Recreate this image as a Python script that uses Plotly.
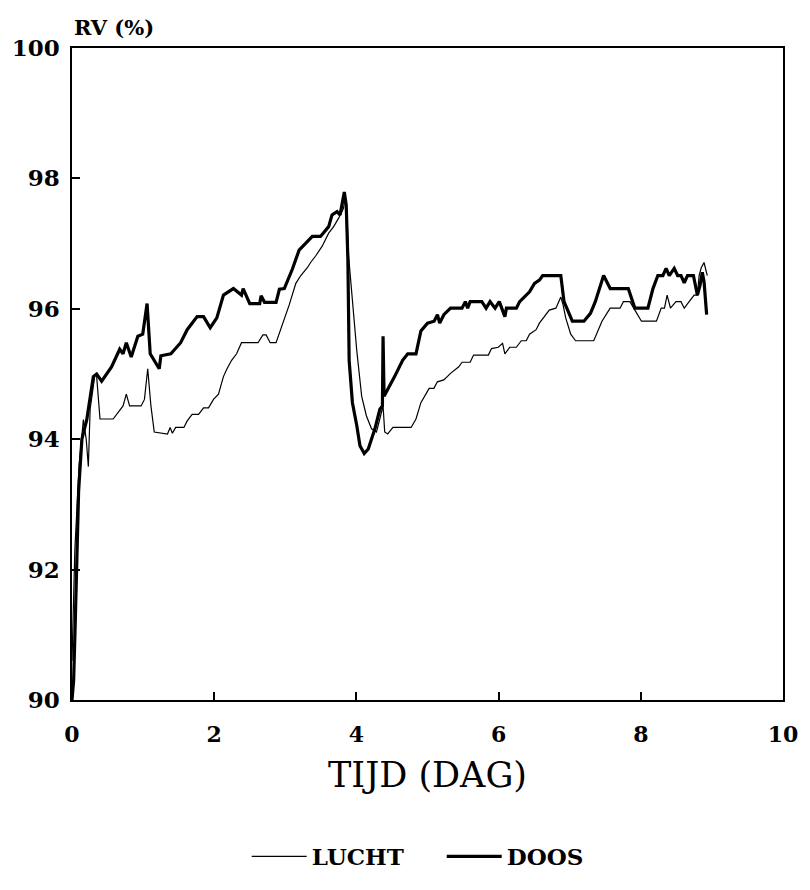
import plotly.graph_objects as go

# LUCHT (air) relative humidity, thin line
lucht_x = [0.0, 0.04, 0.1, 0.16, 0.2, 0.23, 0.255, 0.324, 0.347, 0.394, 0.579, 0.648, 0.718, 0.764,
           0.81, 0.972, 1.019, 1.065, 1.11, 1.157, 1.343, 1.38, 1.412, 1.458, 1.574, 1.62, 1.69, 1.78,
           1.85, 1.92, 1.99, 2.06, 2.13, 2.18, 2.245, 2.315, 2.384, 2.616, 2.685, 2.73, 2.787, 2.87,
           3.055, 3.148, 3.218, 3.31, 3.356, 3.426, 3.519, 3.61, 3.68, 3.75, 3.819, 3.843, 3.866, 3.89,
           3.935, 4.005, 4.074, 4.14, 4.213, 4.282, 4.329, 4.375, 4.398, 4.44, 4.514, 4.769, 4.838,
           4.907, 5.023, 5.09, 5.139, 5.23, 5.324, 5.44, 5.486, 5.6, 5.648, 5.856, 5.9, 5.995, 6.056,
           6.088, 6.157, 6.25, 6.319, 6.389, 6.435, 6.528, 6.574, 6.64, 6.713, 6.806, 6.875, 6.907,
           6.944, 7.014, 7.083, 7.338, 7.41, 7.454, 7.569, 7.708, 7.755, 7.847, 7.917, 8.009, 8.22,
           8.287, 8.333, 8.37, 8.417, 8.495, 8.565, 8.611, 8.68, 8.75, 8.796, 8.82, 8.85, 8.889, 8.935]
lucht_y = [90.6, 92.3, 93.6, 94.3, 94.0, 93.58, 94.46, 95.0, 94.96, 94.31, 94.31, 94.41, 94.51, 94.69,
           94.51, 94.51, 94.61, 95.08, 94.51, 94.11, 94.08, 94.18, 94.09, 94.18, 94.18, 94.28, 94.38, 94.38,
           94.48, 94.48, 94.61, 94.69, 94.96, 95.08, 95.21, 95.31, 95.48, 95.48, 95.6, 95.6, 95.48, 95.48,
           96.06, 96.39, 96.51, 96.63, 96.71, 96.81, 96.96, 97.16, 97.26, 97.39, 97.54, 97.71, 97.46, 96.81,
           96.21, 95.36, 94.66, 94.36, 94.16, 94.11, 94.31, 94.51, 94.11, 94.08, 94.18, 94.18, 94.31,
           94.56, 94.78, 94.78, 94.88, 94.91, 95.01, 95.11, 95.18, 95.18, 95.29, 95.29, 95.39, 95.41, 95.47,
           95.31, 95.41, 95.41, 95.51, 95.51, 95.61, 95.68, 95.78, 95.88, 95.98, 96.01, 96.18, 96.06,
           95.86, 95.61, 95.51, 95.51, 95.71, 95.81, 96.01, 96.01, 96.11, 96.11, 95.98, 95.81, 95.81,
           96.01, 96.01, 96.21, 96.01, 96.11, 96.11, 96.01, 96.11, 96.21, 96.21, 96.51, 96.63, 96.71, 96.51]

# DOOS (box) relative humidity, thick line
doos_x = [0.0, 0.023, 0.046, 0.093, 0.139, 0.208, 0.23, 0.30, 0.347, 0.417, 0.556, 0.671, 0.718, 0.764,
          0.833, 0.926, 0.995, 1.056, 1.10, 1.157, 1.227, 1.25, 1.39, 1.528, 1.62, 1.76, 1.85, 1.944,
          2.037, 2.13, 2.27, 2.384, 2.407, 2.50, 2.64, 2.66, 2.708, 2.87, 2.917, 2.986, 3.10, 3.194,
          3.287, 3.38, 3.495, 3.61, 3.657, 3.727, 3.77, 3.81, 3.83, 3.857, 3.88, 3.898, 3.944, 4.005,
          4.05, 4.11, 4.167, 4.26, 4.33, 4.366, 4.375, 4.389, 4.44, 4.537, 4.65, 4.722, 4.838, 4.907,
          5.0, 5.093, 5.14, 5.171, 5.23, 5.324, 5.486, 5.532, 5.565, 5.6, 5.764, 5.824, 5.88, 5.95,
          6.01, 6.088, 6.11, 6.25, 6.296, 6.366, 6.435, 6.505, 6.574, 6.62, 6.875, 6.92, 7.037, 7.2,
          7.292, 7.36, 7.477, 7.57, 7.824, 7.87, 7.917, 8.1, 8.171, 8.24, 8.31, 8.356, 8.4, 8.47,
          8.518, 8.565, 8.611, 8.657, 8.74, 8.796, 8.833, 8.865, 8.89, 8.926]
doos_y = [90.0, 90.3, 91.2, 93.2, 94.0, 94.3, 94.46, 94.96, 95.0, 94.89, 95.11, 95.38, 95.31, 95.48,
          95.26, 95.58, 95.61, 96.08, 95.31, 95.21, 95.08, 95.28, 95.31, 95.48, 95.68, 95.88, 95.88, 95.71,
          95.86, 96.21, 96.31, 96.21, 96.31, 96.08, 96.08, 96.2, 96.1, 96.1, 96.3, 96.31, 96.61, 96.9,
          97.01, 97.11, 97.11, 97.26, 97.44, 97.49, 97.44, 97.71, 97.79, 97.59, 96.76, 95.21, 94.56, 94.21,
          93.9, 93.78, 93.85, 94.16, 94.46, 94.51, 95.58, 94.66, 94.76, 94.96, 95.21, 95.31, 95.31, 95.66,
          95.78, 95.81, 95.91, 95.78, 95.91, 96.01, 96.01, 96.11, 96.01, 96.11, 96.11, 96.01, 96.11, 96.01,
          96.11, 95.88, 96.01, 96.01, 96.11, 96.18, 96.26, 96.39, 96.44, 96.51, 96.51, 96.11, 95.81, 95.81,
          95.93, 96.11, 96.51, 96.31, 96.31, 96.16, 96.01, 96.01, 96.31, 96.51, 96.51, 96.62, 96.51, 96.62,
          96.51, 96.51, 96.4, 96.51, 96.51, 96.21, 96.36, 96.56, 96.41, 95.91]

x_ticks = [0, 2, 4, 6, 8, 10]
y_ticks = [90, 92, 94, 96, 98, 100]

SERIF = "DejaVu Serif"

fig = go.Figure()
fig.add_trace(go.Scatter(x=lucht_x, y=lucht_y, mode="lines", name="LUCHT",
                         line=dict(color="black", width=1.2)))
fig.add_trace(go.Scatter(x=doos_x, y=doos_y, mode="lines", name="DOOS",
                         line=dict(color="black", width=3.2)))

fig.update_layout(
    width=810, height=890,
    margin=dict(l=70, r=20, t=48, b=177),
    paper_bgcolor="white", plot_bgcolor="white",
    font=dict(family=SERIF, color="black"),
    showlegend=True,
    legend=dict(orientation="h", x=0.52, xanchor="center", y=-0.24, yanchor="middle",
                font=dict(family=SERIF, size=23, weight="bold"),
                itemwidth=55, entrywidth=125, tracegroupgap=0),
    xaxis=dict(range=[0, 10], tickvals=x_ticks, ticks="inside", ticklen=8, tickwidth=1.5,
               tickcolor="black", showline=True, linecolor="black", linewidth=1.5, mirror=True,
               showgrid=False, zeroline=False, ticklabelstandoff=14,
               tickfont=dict(family=SERIF, size=22, weight="bold"),
               title=dict(text="TIJD (DAG)", font=dict(family=SERIF, size=35), standoff=16)),
    yaxis=dict(range=[90, 100], tickvals=y_ticks, ticks="inside", ticklen=8, tickwidth=1.5,
               tickcolor="black", showline=True, linecolor="black", linewidth=1.5, mirror=True,
               showgrid=False, zeroline=False, ticklabelstandoff=6,
               tickfont=dict(family=SERIF, size=23, weight="bold")),
    annotations=[dict(text="RV (%)", xref="paper", yref="paper", x=0, y=1, xanchor="left",
                      yanchor="bottom", yshift=6, showarrow=False,
                      font=dict(family=SERIF, size=21, weight="bold"))],
)

fig.write_html("out.html")
